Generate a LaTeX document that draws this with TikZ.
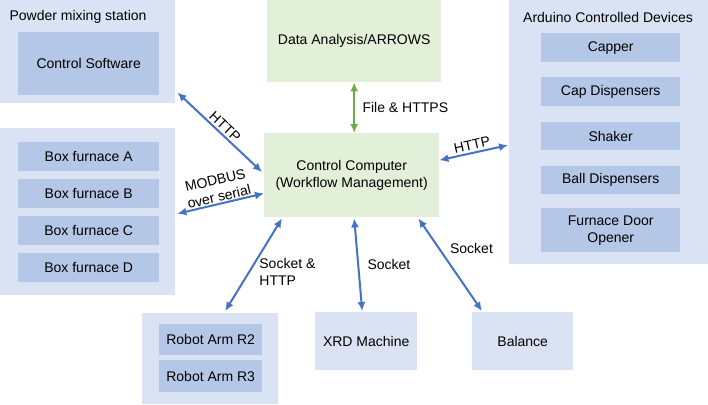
\documentclass[tikz,border=0pt]{standalone}
\usepackage{fontspec}
\setmainfont{Liberation Sans}
\usetikzlibrary{arrows.meta}
\definecolor{outerblue}{HTML}{DAE3F3}
\definecolor{innerblue}{HTML}{B4C7E7}
\definecolor{pcgreen}{HTML}{E2F0D9}
\definecolor{linkblue}{HTML}{4472C4}
\definecolor{linkgreen}{HTML}{70AD47}

\begin{document}
\begin{tikzpicture}[x=1pt,y=-1pt,
	every node/.style={font=\fontsize{14}{17}\selectfont},
	grp/.style={fill=outerblue, anchor=north west, inner sep=0pt, align=center},
	dev/.style={fill=innerblue, anchor=north west, inner sep=0pt, align=center},
	pc/.style={fill=pcgreen, anchor=north west, inner sep=0pt, align=center},
	link/.style={{Latex[length=9pt,width=8pt]}-{Latex[length=9pt,width=8pt]}, line width=2pt, draw=#1, text=black},
	link/.default=linkblue]
\useasboundingbox (0,0) rectangle (708,404);

% powder mixing station
\node[grp, minimum width=175pt, minimum height=103pt] (pms) at (0,0) {};
\node[anchor=west] (pmsl) at (6,17) {Powder mixing station};
\node[dev, minimum width=141pt, minimum height=63pt] (csw) at (18,32) {Control Software};

% box furnaces
\node[grp, minimum width=175pt, minimum height=167pt] (bfg) at (0,128) {};
\foreach \l/\y in {A/142,B/179,C/216,D/253}
	\node[dev, minimum width=141pt, minimum height=29pt] (bf\l) at (18,\y) {Box furnace \l};

% computers
\node[pc, minimum width=174pt, minimum height=82pt] (da) at (267,0) {Data Analysis/ARROWS};
\node[pc, minimum width=175pt, minimum height=84pt] (cc) at (264,133) {Control Computer\\(Workflow Management)};

% arduino devices
\node[grp, minimum width=199pt, minimum height=264pt] (acd) at (509,0) {};
\node (acdl) at (608,17) {Arduino Controlled Devices};
\node[dev, minimum width=139pt, minimum height=29pt] (cap) at (541,33) {Capper};
\node[dev, minimum width=139pt, minimum height=29pt] (cdp) at (541,77) {Cap Dispensers};
\node[dev, minimum width=139pt, minimum height=28pt] (shk) at (541,122) {Shaker};
\node[dev, minimum width=139pt, minimum height=28pt] (bdp) at (541,166) {Ball Dispensers};
\node[dev, minimum width=139pt, minimum height=44pt] (fdo) at (541,208) {Furnace Door\\Opener};

% bottom row
\node[grp, minimum width=136pt, minimum height=91pt] (rag) at (142,313) {};
\node[dev, minimum width=103pt, minimum height=31pt] (ra2) at (159,324) {Robot Arm R2};
\node[dev, minimum width=103pt, minimum height=32pt] (ra3) at (159,360) {Robot Arm R3};
\node[grp, minimum width=102pt, minimum height=58pt] (xrd) at (315,312) {XRD Machine};
\node[grp, minimum width=101pt, minimum height=58pt] (bal) at (472,312) {Balance};

% links
\draw[link] ([shift={(2,-11)}]pms.south east) -- node[sloped, above, inner sep=2pt] {HTTP} ([shift={(-2,39)}]cc.north west);
\draw[link] ([shift={(2,2)}]bfg.east) -- node[sloped, above, inner sep=1pt, align=center] {MODBUS\\over serial} ([shift={(0,-24)}]cc.south west);
\draw[link=linkgreen] (da.south) -- node[right, xshift=4pt] {File \& HTTPS} (da.south |- cc.north);
\draw[link] ([shift={(0,-15)}]cc.east) -- node[sloped, above, inner sep=2pt] {HTTP} ([shift={(-1,13)}]acd.west);
\draw[link] ([shift={(18,1)}]cc.south west) -- node[pos=0.58, right=6pt, align=left] {Socket \&\\HTTP} ([shift={(15,-2)}]rag.north);
\draw[link] ([shift={(2.5,1)}]cc.south) -- node[right=5pt] {Socket} ([shift={(-4,-1)}]xrd.north);
\draw[link] ([shift={(-21,1)}]cc.south east) -- node[pos=0.32, right=7pt] {Socket} ([shift={(10,-1)}]bal.north west);
\end{tikzpicture}
\end{document}
